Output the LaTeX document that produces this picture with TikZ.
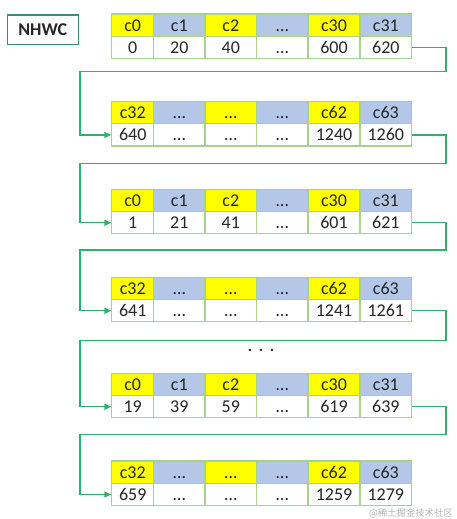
\documentclass[tikz,border=0pt]{standalone}
\usepackage{fontspec}
\setmainfont{Carlito}
\newfontfamily\cjk{Noto Sans CJK SC}
\usetikzlibrary{arrows.meta}
\definecolor{cyel}{HTML}{FFFF00}
\definecolor{cblu}{HTML}{B4C7E7}
\definecolor{gridc}{HTML}{A9D18E}
\definecolor{connc}{HTML}{2BB36E}
\definecolor{boxc}{HTML}{3C8C7C}
\newcommand\dd{…}
\tikzset{
  cell/.style={draw=gridc, line width=0.9pt, minimum height=16.7pt, inner sep=0pt,
    text height=8.8pt, text depth=0pt, font=\fontsize{13.5}{15}\selectfont, text=black!85},
  connline/.style={draw=connc, line width=0.9pt, -{Triangle[length=5pt,width=4.5pt]}},
  titlebox/.style={draw=boxc, line width=0.9pt, inner sep=0pt,
    font=\fontsize{13.5}{15}\selectfont\bfseries, text=black!85}
}
\newcommand\mktable[3]{%
  \foreach \h/\v [count=\j] in {#3} {%
    \pgfmathsetmacro\xl{{111.7,153.7,205,256.7,308,360}[\j-1]}%
    \pgfmathsetmacro\xr{{153.7,205,256.7,308,360,411.7}[\j-1]}%
    \pgfmathsetmacro\cw{(\xr-\xl)*0.75}%
    \pgfmathsetmacro\xc{(\xl+\xr)/2}%
    \ifodd\j \def\fc{cyel}\else\def\fc{cblu}\fi
    \node[cell, fill=\fc, minimum width=\cw pt] (t#1h\j) at (\xc,#2+11.15) {\h};
    \node[cell, fill=white, minimum width=\cw pt] (t#1v\j) at (\xc,#2+33.45) {\v};
  }}
\begin{document}
\begin{tikzpicture}[x=0.75pt,y=-0.75pt]
\useasboundingbox (0,0) rectangle (457,519);
\node[titlebox, minimum width=53.25pt, minimum height=22pt] (nhwc) at (42.7,29.7) {NHWC};

\mktable{1}{14}{c0/0, c1/20, c2/40, \dd/\dd, c30/600, c31/620}
\mktable{2}{101.5}{c32/640, \dd/\dd, \dd/\dd, \dd/\dd, c62/1240, c63/1260}
\mktable{3}{189.3}{c0/1, c1/21, c2/41, \dd/\dd, c30/601, c31/621}
\mktable{4}{277.3}{c32/641, \dd/\dd, \dd/\dd, \dd/\dd, c62/1241, c63/1261}
\mktable{5}{373.3}{c0/19, c1/39, c2/59, \dd/\dd, c30/619, c31/639}
\mktable{6}{461}{c32/659, \dd/\dd, \dd/\dd, \dd/\dd, c62/1259, c63/1279}

\foreach \k/\yy in {1/71.7, 2/163.3, 3/250, 4/340.7, 5/434.3} {
  \coordinate (r\k) at (446,\yy);
  \coordinate (l\k) at (80,\yy);
}
\foreach \k [evaluate=\k as \n using int(\k+1)] in {1,...,5} {
  \draw[connline] (t\k v6.east) -| (r\k) -- (l\k) |- (t\n v1.west);
}

\node[font=\fontsize{12}{14}\selectfont\bfseries, text=black!85] (dots) at (261,350) {.\kern5pt.\kern5pt.};
\node[anchor=east, inner sep=0pt, font=\cjk\fontsize{7}{8}\selectfont, text=black!30] (wm) at (453,513) {@稀土掘金技术社区};
\end{tikzpicture}
\end{document}
